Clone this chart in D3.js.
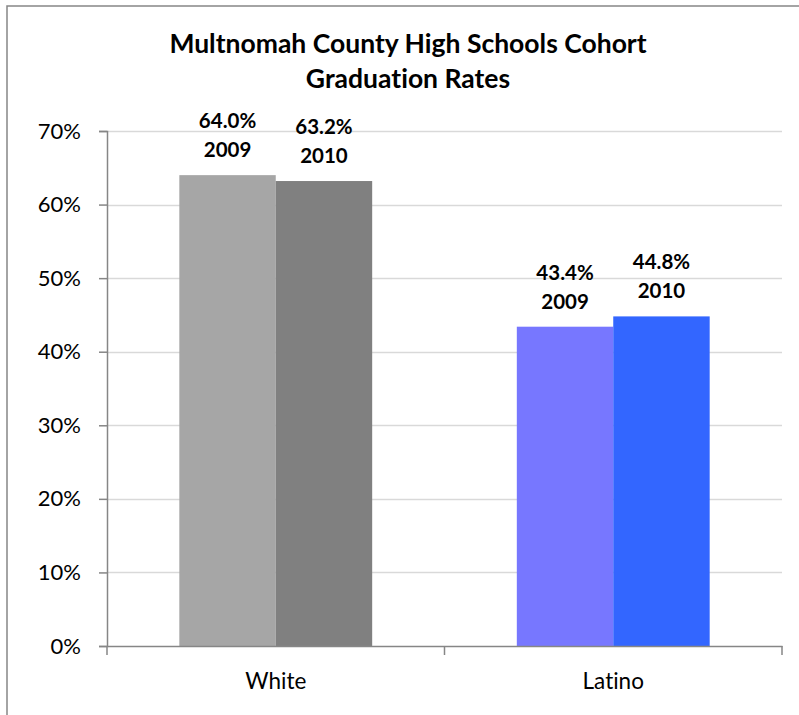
<!DOCTYPE html>
<html>
<head>
<meta charset="utf-8">
<script src="https://cdn.jsdelivr.net/npm/d3@7"></script>
<style>
  body { margin: 0; background: #fff; }
  text { font-family: Lato, "Open Sans", sans-serif; fill: #000; font-variant-ligatures: none; }
</style>
</head>
<body>
<div id="chart"></div>
<script>
// data
const groups = ["White", "Latino"]
const years = ["2009", "2010"]
const rates = {
  White: [0.640, 0.632],
  Latino: [0.434, 0.448]
}
const yTicks = [0, 0.1, 0.2, 0.3, 0.4, 0.5, 0.6, 0.7]
const titleLines = ["Multnomah County High Schools Cohort", "Graduation Rates"]
const colors = {
  White: ["#a6a6a6", "#808080"],
  Latino: ["#7777ff", "#3366ff"]
}

function drawChart() {
  const width = 799, height = 715
  const plot = { left: 107, right: 782, top: 131, bottom: 646 }

  const svg = d3.select("#chart").append("svg")
    .attr("width", width)
    .attr("height", height)

  // outer frame (only left + top show in the crop)
  svg.append("path")
    .attr("d", `M7,${height} L7,6 L${width},6`)
    .attr("fill", "none")
    .attr("stroke", "#868686")
    .attr("stroke-width", 1.5)

  // scales
  const y = d3.scaleLinear().domain([0, 0.7]).range([plot.bottom, plot.top])
  const x0 = d3.scaleBand().domain(groups).range([plot.left, plot.right])
  const x1 = d3.scaleBand().domain(years)
    .range([0, x0.bandwidth()])
    .paddingInner(0)
    .paddingOuter(0.75)

  // gridlines
  svg.append("g").selectAll("line")
    .data(yTicks.slice(1))
    .join("line")
      .attr("x1", plot.left).attr("x2", plot.right)
      .attr("y1", d => Math.round(y(d)) + 0.5)
      .attr("y2", d => Math.round(y(d)) + 0.5)
      .attr("stroke", "#d9d9d9")
      .attr("stroke-width", 1.5)

  // bars
  const bars = []
  groups.forEach(g => years.forEach((yr, i) => bars.push({ group: g, year: yr, value: rates[g][i], color: colors[g][i] })))

  svg.append("g").selectAll("rect")
    .data(bars)
    .join("rect")
      .attr("x", d => x0(d.group) + x1(d.year))
      .attr("width", x1.bandwidth())
      .attr("y", d => y(d.value))
      .attr("height", d => plot.bottom - y(d.value))
      .attr("fill", d => d.color)

  // value labels
  const labels = svg.append("g").selectAll("g")
    .data(bars)
    .join("g")
      .attr("transform", d => `translate(${x0(d.group) + x1(d.year) + x1.bandwidth() / 2},${y(d.value)})`)
  labels.append("text")
    .attr("y", -47)
    .attr("text-anchor", "middle")
    .attr("font-weight", "bold")
    .attr("font-size", 20.5)
    .text(d => d3.format(".1%")(d.value))
  labels.append("text")
    .attr("y", -18)
    .attr("text-anchor", "middle")
    .attr("font-weight", "bold")
    .attr("font-size", 20.5)
    .text(d => d.year)

  // y axis
  const yAxis = svg.append("g")
    .attr("transform", `translate(${plot.left},0)`)
    .call(d3.axisLeft(y).tickValues(yTicks).tickFormat(d3.format(".0%")).tickSize(8).tickPadding(18))
  yAxis.select(".domain").attr("stroke", "#868686").attr("stroke-width", 1.5)
  yAxis.selectAll(".tick line").attr("stroke", "#868686").attr("stroke-width", 1.5)
  yAxis.selectAll(".tick text").attr("font-size", 22).attr("font-family", "Lato, sans-serif")

  // x axis
  const xAxis = svg.append("g")
    .attr("transform", `translate(0,${plot.bottom})`)
    .call(d3.axisBottom(x0).tickSize(0).tickPadding(0))
  xAxis.select(".domain").attr("stroke", "#868686").attr("stroke-width", 1.5)
  xAxis.selectAll(".tick text")
    .attr("font-size", 22.5)
    .attr("font-family", "Lato, sans-serif")
    .attr("dy", 0)
    .attr("y", 43)
  // category separators
  xAxis.append("g").selectAll("line")
    .data([plot.left, x0("Latino"), plot.right])
    .join("line")
      .attr("x1", d => d).attr("x2", d => d)
      .attr("y1", 0).attr("y2", 9)
      .attr("stroke", "#868686")
      .attr("stroke-width", 1.5)

  // title
  svg.append("g").selectAll("text")
    .data(titleLines)
    .join("text")
      .attr("x", 408)
      .attr("y", (d, i) => 53 + i * 35)
      .attr("text-anchor", "middle")
      .attr("font-weight", "bold")
      .attr("font-size", 26.5)
      .text(d => d)
}

drawChart()
</script>
</body>
</html>
